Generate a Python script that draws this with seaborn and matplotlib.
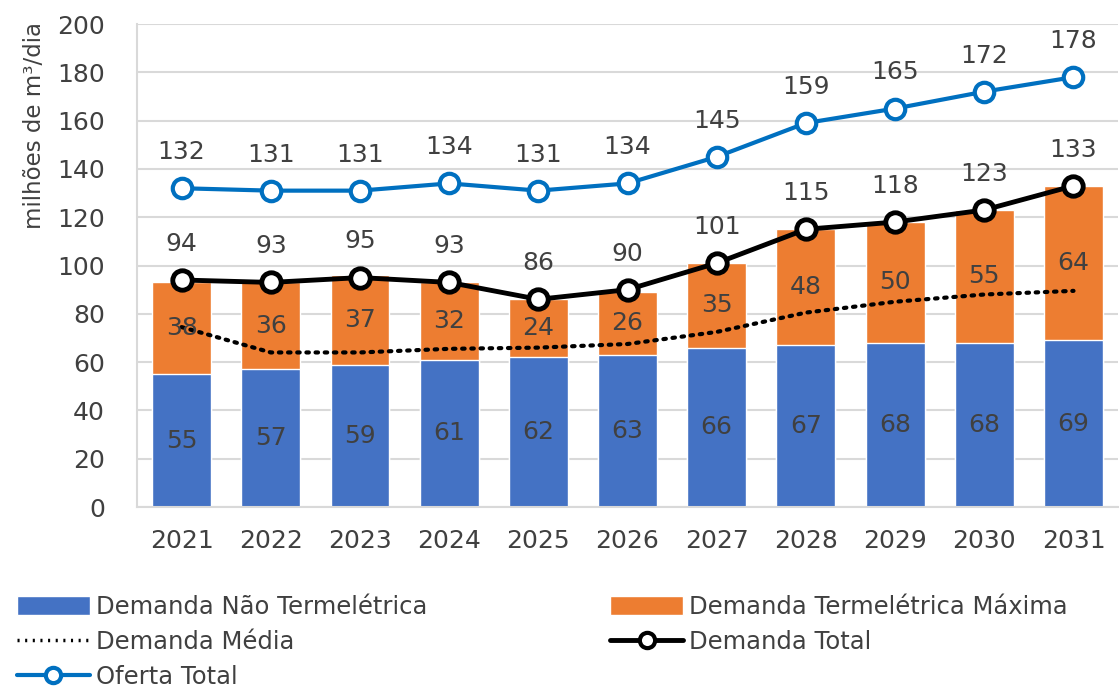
import numpy as np
import pandas as pd
import seaborn as sns
import matplotlib.pyplot as plt
from matplotlib.patches import Patch
from matplotlib.lines import Line2D

# data
anos = ['2021', '2022', '2023', '2024', '2025', '2026', '2027', '2028', '2029', '2030', '2031']
nao_termo = [55, 57, 59, 61, 62, 63, 66, 67, 68, 68, 69]
termo_max = [38, 36, 37, 32, 24, 26, 35, 48, 50, 55, 64]
demanda_total = [94, 93, 95, 93, 86, 90, 101, 115, 118, 123, 133]
demanda_media = [74.5, 64, 64, 65.5, 66, 67.5, 72.5, 80.5, 85, 88, 89.5]
oferta_total = [132, 131, 131, 134, 131, 134, 145, 159, 165, 172, 178]

df = pd.DataFrame({'ano': anos, 'nao': nao_termo, 'termo': termo_max})
df['topo'] = df['nao'] + df['termo']

AZUL = '#4472C4'
LARANJA = '#ED7D31'
AZUL_LINHA = '#0070C0'
TXT = '#404040'

sns.set_style('white')
plt.rcParams['font.family'] = ['DejaVu Sans']

fig = plt.figure(figsize=(11.2, 6.9), dpi=100)
ax = fig.add_axes([0.1223, 0.2652, 0.876, 0.7])

sns.barplot(data=df, x='ano', y='topo', color=LARANJA, width=0.66, saturation=1, ax=ax)
sns.barplot(data=df, x='ano', y='nao', color=AZUL, width=0.66, saturation=1, ax=ax)

pos = np.arange(len(anos))
ax.plot(pos, demanda_media, color='black', lw=3, ls=(0, (0.6, 1.6)), dash_capstyle='round', zorder=3)
ax.plot(pos, demanda_total, color='black', lw=3.5, marker='o', ms=14, mfc='white',
        mec='black', mew=3.5, zorder=4)
ax.plot(pos, oferta_total, color=AZUL_LINHA, lw=3, marker='o', ms=14, mfc='white',
        mec=AZUL_LINHA, mew=3, zorder=4)

# value labels
fs = 18
for i in range(len(anos)):
    ax.text(i, nao_termo[i] / 2, str(nao_termo[i]), ha='center', va='center', fontsize=fs, color=TXT, zorder=5)
    ax.text(i, nao_termo[i] + termo_max[i] / 2, str(termo_max[i]), ha='center', va='center', fontsize=fs, color=TXT, zorder=5)
    ax.annotate(str(demanda_total[i]), (i, demanda_total[i]), xytext=(0, 26), textcoords='offset points',
                ha='center', va='center', fontsize=fs, color=TXT, zorder=5)
    ax.annotate(str(oferta_total[i]), (i, oferta_total[i]), xytext=(0, 26), textcoords='offset points',
                ha='center', va='center', fontsize=fs, color=TXT, zorder=5)

ax.set_ylim(0, 200)
ax.set_xlim(-0.5, len(anos) - 0.5)
ax.set_yticks(range(0, 201, 20))
ax.yaxis.grid(True, color='#D9D9D9', lw=1.5)
ax.set_axisbelow(True)
ax.tick_params(axis='both', length=0, labelsize=18, labelcolor=TXT)
ax.tick_params(axis='x', pad=16)
ax.tick_params(axis='y', pad=23)
ax.set_xlabel('')
ax.set_ylabel('milhões de m³/dia', fontsize=16.5, color=TXT)
ax.yaxis.set_label_coords(-0.093, 0.79)
for s in ['top', 'right']:
    ax.spines[s].set_visible(False)
for s in ['left', 'bottom']:
    ax.spines[s].set_color('#D9D9D9')
    ax.spines[s].set_linewidth(1.5)

# legend in two columns
h1 = [Patch(facecolor=AZUL, label='Demanda Não Termelétrica'),
      Line2D([], [], color='black', lw=2.5, ls=(0, (0.6, 1.6)), label='Demanda Média'),
      Line2D([], [], color=AZUL_LINHA, lw=3, marker='o', ms=11, mfc='white', mec=AZUL_LINHA, mew=3,
             label='Oferta Total')]
h2 = [Patch(facecolor=LARANJA, label='Demanda Termelétrica Máxima'),
      Line2D([], [], color='black', lw=3.5, marker='o', ms=11, mfc='white', mec='black', mew=3,
             label='Demanda Total')]
leg_kw = dict(loc='upper left', frameon=False, fontsize=17.5, handlelength=3.0, handleheight=0.8,
              handletextpad=0.25, labelspacing=0.45, borderaxespad=0, borderpad=0, labelcolor=TXT)
leg1 = fig.legend(handles=h1, bbox_to_anchor=(0.015, 0.138), **leg_kw)
leg2 = fig.legend(handles=h2, bbox_to_anchor=(0.545, 0.138), **leg_kw)

fig.savefig('out.png', dpi=100)
